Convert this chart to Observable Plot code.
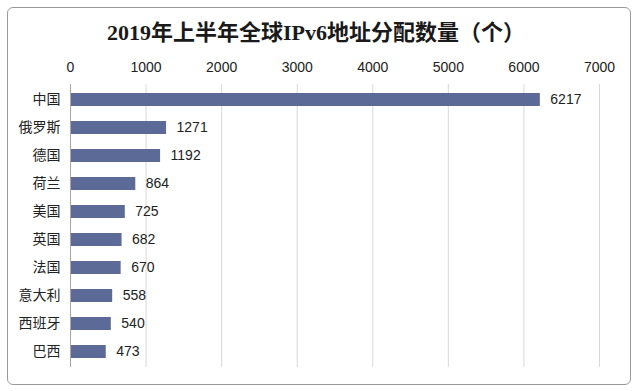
<!DOCTYPE html>
<html>
<head>
<meta charset="utf-8">
<script src="https://cdn.jsdelivr.net/npm/d3@7"></script>
<script src="https://cdn.jsdelivr.net/npm/@observablehq/plot@0.6"></script>
<style>
  html, body { margin: 0; padding: 0; background: #fff; }
  #wrap { position: relative; width: 640px; height: 391px; overflow: hidden; background: #fff; }
  #border { position: absolute; left: 7px; top: 7px; width: 624px; height: 378px; border: 1.5px solid #9a9a9a; border-radius: 6px; box-sizing: border-box; }
  #title { position: absolute; left: 0; width: 632px; top: 14px; text-align: center; font: bold 22px "Liberation Serif", "Noto Sans CJK SC", serif; color: #1a1a1a; }
  #chart { position: absolute; left: 0; top: 0; }
</style>
</head>
<body>
<div id="wrap">
  <div id="border"></div>
  <div id="title">2019年上半年全球IPv6地址分配数量（个）</div>
  <div id="chart"></div>
</div>
<script>
const countries = ["中国", "俄罗斯", "德国", "荷兰", "美国", "英国", "法国", "意大利", "西班牙", "巴西"];
const counts = [6217, 1271, 1192, 864, 725, 682, 670, 558, 540, 473];
const xTicks = [0, 1000, 2000, 3000, 4000, 5000, 6000, 7000];

const data = countries.map((c, i) => ({country: c, value: counts[i]}));

const chart = Plot.plot({
  width: 640,
  height: 391,
  marginTop: 84,
  marginBottom: 24,
  marginLeft: 70,
  marginRight: 41,
  style: {background: "transparent", fontFamily: "'Liberation Sans', 'Noto Sans CJK SC', sans-serif", fontSize: "14px", color: "#222"},
  x: {domain: [0, 7000], axis: "top", ticks: xTicks, tickSize: 0, tickPadding: 13, label: null, tickFormat: d => String(d)},
  y: {domain: countries, paddingInner: 0.55, paddingOuter: 0.275, tickSize: 0, tickPadding: 10, label: null},
  marks: [
    Plot.ruleX(xTicks.slice(1), {stroke: "#d9d9d9", strokeWidth: 1}),
    Plot.barX(data, {x: "value", y: "country", fill: "#5b6a97"}),
    Plot.ruleX([0], {stroke: "#a6a6a6", strokeWidth: 1}),
    Plot.text(data, {x: "value", y: "country", text: d => String(d.value), dx: 10, textAnchor: "start", fontSize: 14, fill: "#222"})
  ]
});
chart.querySelectorAll("g[aria-label='y-axis tick label'] text, g[aria-label='y-axis tick label']").forEach(el => {
  el.setAttribute("font-family", "'Noto Sans CJK SC', sans-serif");
});
document.getElementById("chart").appendChild(chart);
</script>
</body>
</html>
